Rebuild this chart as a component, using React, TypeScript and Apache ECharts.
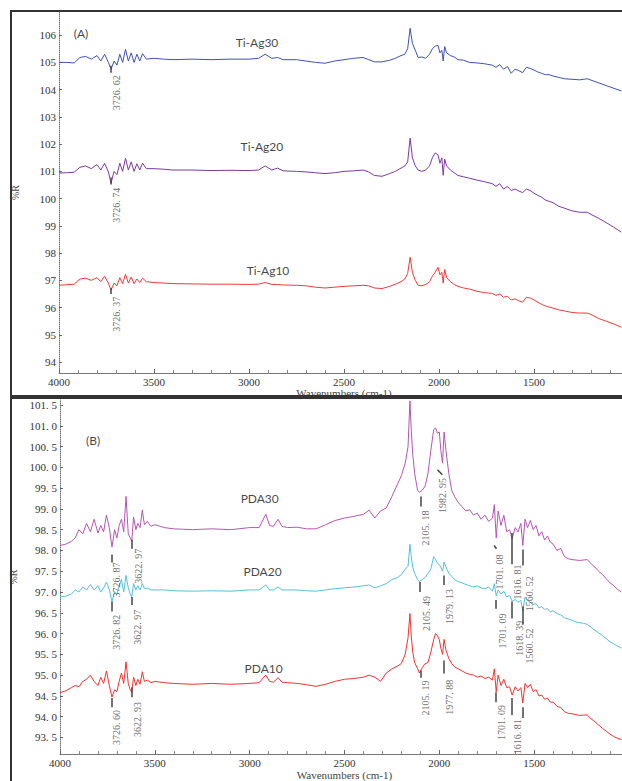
import React, { useEffect, useRef } from "react";
import * as echarts from "echarts";

// ---------- Panel A data ----------
const wnA = [
  4000, 3960, 3920, 3890, 3860, 3830, 3800, 3780, 3760, 3740,
  3726, 3710, 3695, 3680, 3665, 3650, 3635, 3620, 3605, 3590,
  3575, 3560, 3540, 3500, 3450, 3400, 3300, 3200, 3100, 3000,
  2950, 2915, 2880, 2850, 2820, 2750, 2700, 2650, 2600, 2550,
  2500, 2450, 2400, 2370, 2340, 2300, 2260, 2230, 2200, 2180,
  2165, 2152, 2140, 2125, 2110, 2090, 2070, 2050, 2035, 2020,
  2005, 1995, 1985, 1978, 1970, 1960, 1940, 1920, 1900, 1870,
  1840, 1800, 1760, 1720, 1700, 1680, 1660, 1640, 1620, 1600,
  1580, 1560, 1540, 1520, 1500, 1480, 1460, 1440, 1420, 1400,
  1370, 1340, 1300, 1260, 1220, 1200, 1160, 1120, 1080, 1040,
];
const tiAg30 = [
  105.0, 105.0, 104.98, 105.18, 105.22, 105.12, 105.25, 105.05, 105.3, 105.0,
  104.75, 105.05, 104.9, 105.3, 105.0, 105.48, 105.05, 105.35, 105.0, 105.3,
  105.05, 105.32, 105.12, 105.15, 105.12, 105.1, 105.12, 105.1, 105.12, 105.12,
  105.15, 105.3, 105.15, 105.18, 105.1, 105.1, 105.05, 105.0, 104.97, 105.05,
  105.1, 105.15, 105.18, 105.1, 105.02, 105.02, 105.08, 105.15, 105.25, 105.3,
  105.5, 106.25, 105.7, 105.45, 105.18, 105.2, 105.15, 105.3, 105.5, 105.6,
  105.62, 105.35, 105.45, 105.05, 105.58, 105.35, 105.25, 105.2, 105.1, 105.08,
  105.0, 104.98, 104.95, 104.9, 104.82, 104.92, 104.75, 104.85, 104.6, 104.75,
  104.7, 104.62, 104.82, 104.78, 104.72, 104.65, 104.6, 104.55, 104.55, 104.5,
  104.45, 104.4, 104.38, 104.36, 104.4, 104.35, 104.25, 104.15, 104.05, 103.95,
];
const tiAg20 = [
  100.94, 100.95, 100.97, 101.15, 101.2, 101.1, 101.25, 101.05, 101.3, 100.98,
  100.57, 101.0, 100.88, 101.3, 101.0, 101.48, 101.05, 101.35, 101.0, 101.28,
  101.05, 101.3, 101.1, 101.1, 101.08, 101.05, 101.05, 101.03, 101.04, 101.03,
  101.05, 101.2, 101.05, 101.12, 101.02, 101.0, 100.98, 100.95, 100.92, 100.95,
  101.0, 101.02, 101.05, 100.98, 100.85, 100.82, 100.92, 101.0, 101.12, 101.2,
  101.35, 102.22, 101.5, 101.2, 101.05, 101.0, 101.05, 101.2, 101.5, 101.68,
  101.6, 101.3, 101.5, 100.86, 101.45, 101.2, 101.05, 100.95, 100.85, 100.8,
  100.75, 100.68, 100.62, 100.55, 100.45, 100.55, 100.35, 100.45, 100.3, 100.35,
  100.28, 100.22, 100.35, 100.3, 100.2, 100.12, 100.05, 99.95, 99.9, 99.85,
  99.72, 99.65, 99.55, 99.5, 99.5, 99.42, 99.28, 99.12, 98.95, 98.77,
];
const tiAg10 = [
  96.82, 96.84, 96.86, 97.05, 97.08, 97.0, 97.1, 96.95, 97.15, 96.9,
  96.64, 96.9, 96.8, 97.1, 96.88, 97.22, 96.9, 97.12, 96.88, 97.05,
  96.92, 97.08, 96.95, 96.92, 96.9, 96.88, 96.87, 96.86, 96.86, 96.85,
  96.86, 96.92, 96.85, 96.85, 96.83, 96.82, 96.8, 96.75, 96.72, 96.75,
  96.78, 96.8, 96.82, 96.8, 96.72, 96.7, 96.78, 96.86, 96.95, 97.05,
  97.25, 97.85, 97.3, 97.0, 96.82, 96.8, 96.85, 96.95, 97.15, 97.3,
  97.48, 97.2, 97.3, 96.9, 97.4, 97.1, 96.95, 96.85, 96.78, 96.72,
  96.68, 96.6, 96.55, 96.52, 96.45, 96.5, 96.38, 96.42, 96.28, 96.32,
  96.25, 96.2, 96.38, 96.35, 96.28, 96.2, 96.12, 96.06, 96.02, 95.98,
  95.92, 95.88, 95.82, 95.8, 95.8, 95.75, 95.6, 95.5, 95.4, 95.28,
];

// ---------- Panel B data ----------
const wnB = [
  4000, 3970, 3940, 3920, 3900, 3880, 3860, 3840, 3820, 3800,
  3785, 3770, 3755, 3740, 3726, 3712, 3700, 3688, 3676, 3664,
  3652, 3640, 3630, 3622, 3612, 3600, 3590, 3578, 3566, 3555,
  3540, 3520, 3500, 3450, 3400, 3300, 3200, 3100, 3000, 2950,
  2915, 2895, 2875, 2850, 2830, 2800, 2750, 2700, 2650, 2600,
  2550, 2500, 2450, 2400, 2370, 2340, 2310, 2280, 2250, 2220,
  2200, 2180, 2165, 2155, 2148, 2140, 2130, 2115, 2105, 2090,
  2075, 2060, 2045, 2030, 2020, 2010, 2000, 1992, 1983, 1975,
  1965, 1950, 1935, 1920, 1900, 1880, 1860, 1840, 1820, 1800,
  1780, 1760, 1740, 1720, 1710, 1700, 1690, 1675, 1660, 1645,
  1630, 1616, 1600, 1585, 1570, 1560, 1548, 1535, 1520, 1505,
  1490, 1475, 1460, 1445, 1430, 1415, 1400, 1380, 1360, 1340,
  1320, 1300, 1280, 1260, 1240, 1220, 1200, 1180, 1160, 1140,
  1120, 1100, 1080, 1060, 1040,
];
const pda30 = [
  98.12, 98.15, 98.22, 98.3, 98.5, 98.4, 98.65, 98.45, 98.75, 98.42,
  98.6, 98.45, 98.85, 98.55, 98.08, 98.5, 98.3, 98.6, 98.75, 98.45,
  99.3, 98.4, 98.3, 98.22, 98.8, 98.5, 98.65, 98.55, 98.97, 98.62,
  98.7, 98.58, 98.62, 98.55, 98.52, 98.5, 98.52, 98.5, 98.55, 98.55,
  98.87, 98.6, 98.58, 98.75, 98.58, 98.55, 98.56, 98.52, 98.52, 98.62,
  98.72, 98.78, 98.82, 98.87, 98.97, 98.78, 98.95, 99.02, 99.3, 99.6,
  99.8, 100.1, 100.5, 101.6, 100.9, 100.3, 99.85, 99.45, 99.4, 99.45,
  99.55, 99.85, 100.4, 100.9, 100.95, 100.82, 100.85, 100.4, 100.1, 100.85,
  100.4, 99.85, 99.45, 99.3, 99.15, 99.05, 98.95, 98.98, 98.85, 98.9,
  98.75, 98.85, 98.7, 98.78, 99.1, 98.3, 98.95, 98.6, 98.85, 98.45,
  98.5, 98.28, 98.55, 98.45, 98.65, 98.12, 98.75, 98.55, 98.72, 98.5,
  98.6, 98.35, 98.45, 98.25, 98.35, 98.2, 98.15, 98.0, 98.05, 97.85,
  97.8, 97.78, 97.77, 97.76, 97.77, 97.78, 97.68, 97.6, 97.5, 97.42,
  97.32, 97.22, 97.15, 97.06, 97.0,
];
const pda20 = [
  96.88, 96.9, 96.95, 97.05, 97.0, 97.12, 97.05, 97.18, 97.05, 97.15,
  97.0, 97.1, 97.24, 97.05, 96.77, 97.0, 96.95, 97.15, 97.3, 97.0,
  97.4, 97.1, 96.95, 96.88, 97.2, 97.05, 97.15, 97.05, 97.2, 97.08,
  97.1, 97.05, 97.05, 97.05, 97.03, 97.02, 97.03, 97.02, 97.05, 97.05,
  97.17, 97.05, 97.05, 97.12, 97.05, 97.05, 97.05, 97.03, 97.02, 97.05,
  97.08, 97.1, 97.12, 97.15, 97.17, 97.1, 97.15, 97.2, 97.3, 97.35,
  97.42, 97.55, 97.62, 98.15, 97.85, 97.6, 97.45, 97.3, 97.25, 97.3,
  97.35, 97.45, 97.55, 97.85, 97.78, 97.7, 97.65, 97.6, 97.5, 97.72,
  97.6, 97.45, 97.38, 97.3, 97.25, 97.22, 97.18, 97.15, 97.12, 97.15,
  97.1, 97.08, 97.12, 97.02, 97.2, 96.9, 97.05, 96.95, 97.02, 96.88,
  96.92, 96.78, 96.82, 96.75, 96.8, 96.55, 96.88, 96.8, 96.75, 96.7,
  96.72, 96.62, 96.65, 96.58, 96.6, 96.52, 96.55, 96.48, 96.45, 96.38,
  96.35, 96.32, 96.28, 96.26, 96.25, 96.22, 96.15, 96.08, 96.02, 95.95,
  95.88, 95.8, 95.75, 95.7, 95.65,
];
const pda10 = [
  94.58, 94.62, 94.7, 94.75, 94.72, 94.85, 94.9, 95.0, 94.85, 94.75,
  94.95, 94.8, 95.1, 94.75, 94.47, 94.65, 94.6, 94.85, 95.05, 94.8,
  95.32, 94.8, 94.65, 94.59, 94.95, 94.75, 94.9, 94.78, 95.08, 94.85,
  94.88, 94.82, 94.85, 94.82, 94.8, 94.78, 94.8, 94.78, 94.8, 94.82,
  95.0, 94.85, 94.83, 94.94, 94.83, 94.82, 94.8, 94.77, 94.73, 94.78,
  94.85, 94.9, 94.92, 94.95, 95.0, 94.95, 94.85, 95.05, 95.15, 95.22,
  95.28, 95.5, 95.9, 96.48, 95.95, 95.55, 95.3, 95.16, 95.05, 95.18,
  95.28, 95.3, 95.55, 95.85, 96.0, 95.95, 95.85, 95.65, 95.5, 95.86,
  95.6, 95.4, 95.28, 95.2, 95.15, 95.1, 95.05, 95.02, 95.0, 94.95,
  94.98, 94.92, 94.95, 94.88, 95.15, 94.6, 95.0, 94.75, 94.9, 94.7,
  94.72, 94.52, 94.72, 94.62, 94.7, 94.33, 94.8, 94.7, 94.78, 94.6,
  94.65, 94.5, 94.52, 94.42, 94.45, 94.35, 94.35, 94.25, 94.22, 94.12,
  94.08, 94.07, 94.05, 94.03, 94.04, 94.04, 93.95, 93.88, 93.8, 93.72,
  93.65, 93.58, 93.52, 93.48, 93.45,
];

// ---------- Axis tick labels ----------
const xTickLabels = [4000, 3500, 3000, 2500, 2000, 1500];
const yTicksA = [94, 95, 96, 97, 98, 99, 100, 101, 102, 103, 104, 105, 106];
const yTicksB = [93.5, 94, 94.5, 95, 95.5, 96, 96.5, 97, 97.5, 98, 98.5, 99, 99.5, 100, 100.5, 101, 101.5];

// ---------- Annotations (data coordinates) ----------
const peakMarks = [
  { p: 0, w1: 3726, w2: 3726, y1: 104.88, y2: 104.62 },
  { p: 0, w1: 3726, w2: 3726, y1: 100.78, y2: 100.52 },
  { p: 0, w1: 3726, w2: 3726, y1: 96.72, y2: 96.5 },
  { p: 1, w1: 3726, w2: 3726, y1: 97.9, y2: 97.71 },
  { p: 1, w1: 3621, w2: 3621, y1: 98.26, y2: 98.04 },
  { p: 1, w1: 2100, w2: 2100, y1: 99.3, y2: 99.06 },
  { p: 1, w1: 2010, w2: 1984, y1: 99.94, y2: 99.82 },
  { p: 1, w1: 1711, w2: 1699, y1: 98.12, y2: 98.04 },
  { p: 1, w1: 1616, w2: 1616, y1: 98.42, y2: 97.67 },
  { p: 1, w1: 1558, w2: 1558, y1: 98.02, y2: 97.64 },
  { p: 1, w1: 3726, w2: 3726, y1: 96.77, y2: 96.53 },
  { p: 1, w1: 3621, w2: 3621, y1: 96.88, y2: 96.69 },
  { p: 1, w1: 2105, w2: 2105, y1: 97.24, y2: 97.0 },
  { p: 1, w1: 1979, w2: 1979, y1: 97.4, y2: 97.17 },
  { p: 1, w1: 1700, w2: 1700, y1: 96.81, y2: 96.6 },
  { p: 1, w1: 1616, w2: 1616, y1: 96.77, y2: 96.36 },
  { p: 1, w1: 1558, w2: 1558, y1: 96.65, y2: 96.22 },
  { p: 1, w1: 3726, w2: 3726, y1: 94.45, y2: 94.23 },
  { p: 1, w1: 3621, w2: 3621, y1: 94.71, y2: 94.47 },
  { p: 1, w1: 2100, w2: 2100, y1: 95.11, y2: 94.94 },
  { p: 1, w1: 1979, w2: 1979, y1: 95.35, y2: 95.04 },
  { p: 1, w1: 1700, w2: 1700, y1: 94.59, y2: 94.35 },
  { p: 1, w1: 1616, w2: 1616, y1: 94.45, y2: 94.04 },
  { p: 1, w1: 1558, w2: 1558, y1: 94.23, y2: 93.97 },
];
const peakLabels = [
  { p: 0, w: 3695, y: 103.89, t: "3726. 62" },
  { p: 0, w: 3695, y: 99.76, t: "3726. 74" },
  { p: 0, w: 3695, y: 95.76, t: "3726. 37" },
  { p: 1, w: 3700, y: 97.29, t: "3726. 87" },
  { p: 1, w: 3584, y: 97.62, t: "3622. 97" },
  { p: 1, w: 2074, y: 98.54, t: "2105. 18" },
  { p: 1, w: 1984, y: 99.32, t: "1982. 95" },
  { p: 1, w: 1684, y: 97.48, t: "1701. 08" },
  { p: 1, w: 1590, y: 97.24, t: "1616. 81" },
  { p: 1, w: 1526, y: 96.96, t: "1560. 52" },
  { p: 1, w: 3700, y: 96.03, t: "3726. 82" },
  { p: 1, w: 3589, y: 96.15, t: "3622. 97" },
  { p: 1, w: 2068, y: 96.48, t: "2105. 49" },
  { p: 1, w: 1947, y: 96.65, t: "1979. 13" },
  { p: 1, w: 1668, y: 96.06, t: "1701. 09" },
  { p: 1, w: 1579, y: 95.89, t: "1618. 39" },
  { p: 1, w: 1526, y: 95.7, t: "1560. 52" },
  { p: 1, w: 3700, y: 93.74, t: "3726. 60" },
  { p: 1, w: 3589, y: 93.93, t: "3622. 93" },
  { p: 1, w: 2074, y: 94.45, t: "2105. 19" },
  { p: 1, w: 1947, y: 94.47, t: "1977. 88" },
  { p: 1, w: 1674, y: 93.86, t: "1701. 09" },
  { p: 1, w: 1590, y: 93.52, t: "1616. 81" },
];
const nameLabels = [
  { p: 0, w: 2958, y: 105.74, t: "Ti-Ag30" },
  { p: 0, w: 2932, y: 101.93, t: "Ti-Ag20" },
  { p: 0, w: 2900, y: 97.38, t: "Ti-Ag10" },
  { p: 0, w: 3884, y: 106.07, t: "(A)" },
  { p: 1, w: 2947, y: 99.25, t: "PDA30" },
  { p: 1, w: 2932, y: 97.5, t: "PDA20" },
  { p: 1, w: 2926, y: 95.16, t: "PDA10" },
  { p: 1, w: 3826, y: 100.65, t: "(B)" },
];

const zip = (xs: number[], ys: number[]) => xs.map((x, i) => [x, ys[i]]);

const SERIF = "'Liberation Serif', 'DejaVu Serif', serif";
const SANS = "Lato, 'Open Sans', sans-serif";

function makeXAxis(gridIndex: number) {
  return {
    type: "value",
    gridIndex,
    min: 1000,
    max: 4000,
    interval: 500,
    inverse: true,
    axisLine: { show: true, lineStyle: { color: "#777", width: 1 } },
    axisTick: { show: true, inside: true, length: 4, lineStyle: { color: "#666" } },
    minorTick: { show: true, splitNumber: 5, length: 3, lineStyle: { color: "#888" } },
    splitLine: { show: false },
    minorSplitLine: { show: false },
    axisLabel: {
      color: "#333",
      fontFamily: SERIF,
      fontSize: 11,
      margin: 3,
      formatter: (v: number) => (xTickLabels.indexOf(v) >= 0 ? String(v) : ""),
    },
    name: "Wavenumbers (cm-1)",
    nameLocation: "middle",
    nameGap: 11,
    nameTextStyle: { color: "#444", fontFamily: SERIF, fontSize: 11 },
  };
}

function makeYAxis(gridIndex: number, min: number, max: number, ticks: number[], fmt: (v: number) => string) {
  return {
    type: "value",
    gridIndex,
    min,
    max,
    axisLine: { show: true, lineStyle: { color: "#777", type: "dotted", width: 1 } },
    axisTick: { show: true, inside: true, length: 3, customValues: ticks, lineStyle: { color: "#666" } },
    splitLine: { show: false },
    axisLabel: {
      color: "#333",
      fontFamily: SERIF,
      fontSize: 11,
      margin: 3,
      customValues: ticks,
      formatter: (v: number) => fmt(v),
    },
    name: "%R",
    nameLocation: "middle",
    nameRotate: 90,
    nameGap: 39,
    nameTextStyle: { color: "#444", fontFamily: SERIF, fontSize: 10 },
  };
}

export default function App() {
  const ref = useRef<HTMLDivElement>(null);

  useEffect(() => {
    if (!ref.current) return;
    const chart = echarts.init(ref.current, undefined, { renderer: "svg" });

    const lineSeries = (data: number[][], p: number, color: string) => ({
      type: "line",
      xAxisIndex: p,
      yAxisIndex: p,
      data,
      symbol: "none",
      showSymbol: false,
      silent: true,
      lineStyle: { color, width: 1 },
      itemStyle: { color },
      z: 2,
    });

    const markSeries = [0, 1].map((p) => ({
      type: "lines",
      coordinateSystem: "cartesian2d",
      xAxisIndex: p,
      yAxisIndex: p,
      silent: true,
      z: 3,
      lineStyle: { color: "#444", width: 1.5, opacity: 1 },
      data: peakMarks
        .filter((m) => m.p === p)
        .map((m) => ({ coords: [[m.w1, m.y1], [m.w2, m.y2]] })),
    }));

    const labelSeries = [0, 1].map((p) => ({
      type: "scatter",
      xAxisIndex: p,
      yAxisIndex: p,
      silent: true,
      symbolSize: 1,
      itemStyle: { color: "rgba(0,0,0,0)" },
      z: 4,
      label: {
        show: true,
        position: "inside",
        rotate: 90,
        formatter: "{b}",
        color: "#444",
        fontFamily: SERIF,
        fontSize: 10,
      },
      data: peakLabels.filter((l) => l.p === p).map((l) => ({ name: l.t, value: [l.w, l.y] })),
    }));

    const nameSeries = [0, 1].map((p) => ({
      type: "scatter",
      xAxisIndex: p,
      yAxisIndex: p,
      silent: true,
      symbolSize: 1,
      itemStyle: { color: "rgba(0,0,0,0)" },
      z: 4,
      label: {
        show: true,
        position: "inside",
        formatter: "{b}",
        color: "#111",
        fontFamily: SANS,
        fontSize: 12,
      },
      data: nameLabels.filter((l) => l.p === p).map((l) => ({ name: l.t, value: [l.w, l.y] })),
    }));

    chart.setOption({
      animation: false,
      backgroundColor: "#fff",
      grid: [
        { left: 59, top: 12, width: 570, height: 361 },
        { left: 60, top: 400, width: 570, height: 360 },
      ],
      xAxis: [makeXAxis(0), makeXAxis(1)],
      yAxis: [
        makeYAxis(0, 93.6, 106.85, yTicksA, (v) => String(Math.round(v))),
        makeYAxis(1, 93.1, 101.62, yTicksB, (v) => v.toFixed(1).replace(".", ". ")),
      ],
      graphic: [
        {
          type: "rect",
          silent: true,
          z: 100,
          shape: { x: 11, y: 11, width: 640, height: 385 },
          style: { fill: "none", stroke: "#333", lineWidth: 2 },
        },
        {
          type: "rect",
          silent: true,
          z: 100,
          shape: { x: 11, y: 398, width: 640, height: 400 },
          style: { fill: "none", stroke: "#333", lineWidth: 2 },
        },
      ],
      series: [
        lineSeries(zip(wnA, tiAg30), 0, "#3F52B4"),
        lineSeries(zip(wnA, tiAg20), 0, "#7D3A9D"),
        lineSeries(zip(wnA, tiAg10), 0, "#F03A3A"),
        lineSeries(zip(wnB, pda30), 1, "#B556B5"),
        lineSeries(zip(wnB, pda20), 1, "#52C2DA"),
        lineSeries(zip(wnB, pda10), 1, "#F03333"),
        ...markSeries,
        ...labelSeries,
        ...nameSeries,
      ],
    });

    return () => chart.dispose();
  }, []);

  return (
    <div
      style={{
        position: "fixed",
        left: 0,
        top: 0,
        width: 622,
        height: 781,
        overflow: "hidden",
        background: "#fff",
      }}
    >
      <div ref={ref} style={{ width: 632, height: 781 }} />
    </div>
  );
}
